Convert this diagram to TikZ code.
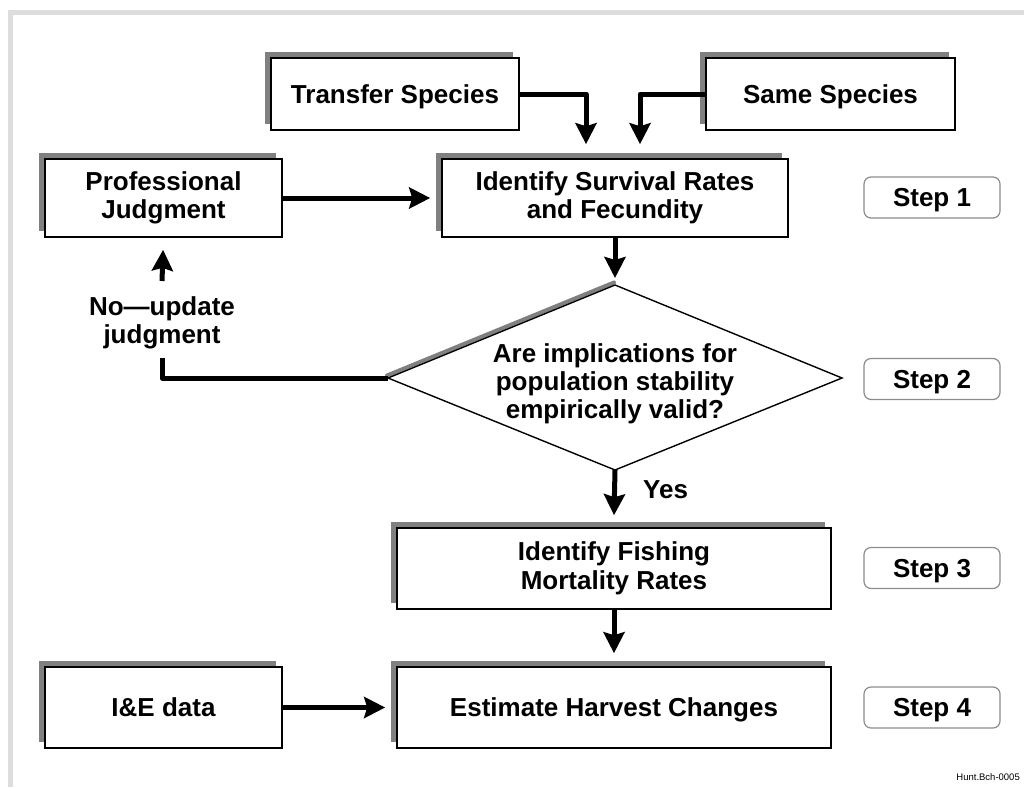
\documentclass[tikz,border=0pt]{standalone}
\usepackage{fontspec}
\setmainfont{Liberation Sans}
\usetikzlibrary{arrows.meta,shadows,calc}
\definecolor{shgray}{HTML}{808080}
\definecolor{framegray}{HTML}{DDDDDD}
\definecolor{stepgray}{HTML}{8C8C8C}
\begin{document}
\begin{tikzpicture}[x=1pt,y=-1pt,
  box/.style={draw=black, line width=1.6pt, fill=white, inner sep=0pt, align=center,
    font=\fontsize{26}{28}\selectfont\bfseries,
    general shadow={fill=shgray, shadow xshift=-6pt, shadow yshift=6pt}},
  oneline/.style={text height=18.6pt, text depth=0pt},
  stepbox/.style={draw=stepgray, line width=1.2pt, rounded corners=7pt, fill=white,
    minimum width=136pt, minimum height=41pt, inner sep=0pt, oneline,
    font=\fontsize{26}{28}\selectfont\bfseries},
  lbl/.style={inner sep=0pt, align=center, font=\fontsize{26}{28}\selectfont\bfseries},
  conn/.style={line width=5pt, line join=round},
  arr/.style={conn, -{Stealth[length=21pt,width=21pt,inset=3pt]}}]
\useasboundingbox (0,0) rectangle (1024,787);
% frame
\fill[framegray] (8,10) rectangle (1024,15);
\fill[framegray] (8,10) rectangle (13,787);

% boxes
\node[box, oneline, minimum width=248pt, minimum height=72pt] (ts) at (395,94) {Transfer Species};
\node[box, oneline, minimum width=249pt, minimum height=72pt] (ss) at (830.5,94) {Same Species};
\node[box, minimum width=237pt, minimum height=78pt] (pj) at (163.5,198) {Professional\\Judgment};
\node[box, minimum width=346pt, minimum height=78pt] (id) at (615,198) {Identify Survival Rates\\and Fecundity};
\node[box, minimum width=434pt, minimum height=81pt, font=\fontsize{26}{29.5}\selectfont\bfseries] (fm) at (614,568.5) {Identify Fishing\\Mortality Rates};
\node[box, oneline, minimum width=434pt, minimum height=81pt] (hc) at (614,707.5) {Estimate Harvest Changes};
\node[box, oneline, minimum width=237pt, minimum height=81pt] (ie) at (163.5,707.5) {I\&E data};

% steps
\node[stepbox] (s1) at (932,197.5) {Step 1};
\node[stepbox] (s2) at (932,379) {Step 2};
\node[stepbox] (s3) at (932,568) {Step 3};
\node[stepbox] (s4) at (932,707.5) {Step 4};

% diamond
\coordinate (dt) at (615,285);
\coordinate (dl) at (388,378);
\coordinate (dr) at (842,378);
\coordinate (db) at (615,470);
\draw[shgray, line width=4pt, line cap=round] ($(dl)+(-1,-2.5)$) -- ($(dt)+(-1,-2.5)$);
\draw[black, line width=1.4pt, fill=white, line join=miter] (dt) -- (dr) -- (db) -- (dl) -- cycle;
\node[lbl] (q) at (615,384) {Are implications for\\population stability\\empirically valid?};

% connectors
\draw[arr] (ts.east) -| ([xshift=-29pt,yshift=14pt]id.north);
\draw[arr] (ss.west) -| ([xshift=25pt,yshift=14pt]id.north);
\draw[arr] (pj.east) -- ([xshift=-11pt]id.west);
\draw[arr] (id.south) -- ([yshift=7pt]dt);
\draw[arr] (db) -- ([yshift=12pt]fm.north);
\node[lbl, anchor=base west] (yes) at (643,498) {Yes};
\draw[arr] (fm.south) -- ([yshift=13pt]hc.north);
\draw[arr] (ie.east) -- ([xshift=-11pt]hc.west);

\coordinate (nb) at (162,358);
\draw[conn] (dl) -| (nb);
\node[lbl] (no) at (162,323) {No---update\\judgment};
\coordinate (na) at (162,281);
\draw[arr, shorten >=12pt] (na) -- (pj.south);

\node[anchor=base east, inner sep=0pt, font=\fontsize{9.5}{11}\selectfont] (tag) at (1020,780) {Hunt.Bch-0005};
\end{tikzpicture}
\end{document}
